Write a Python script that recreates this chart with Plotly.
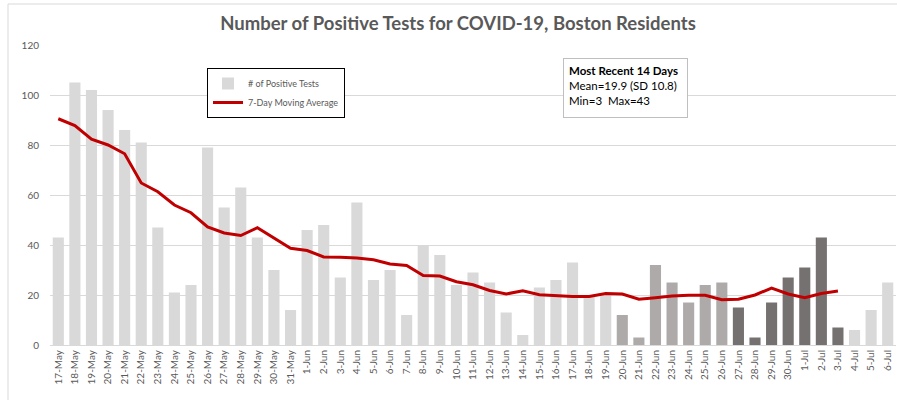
import plotly.graph_objects as go

dates = ["17-May","18-May","19-May","20-May","21-May","22-May","23-May","24-May","25-May","26-May",
         "27-May","28-May","29-May","30-May","31-May",
         "1-Jun","2-Jun","3-Jun","4-Jun","5-Jun","6-Jun","7-Jun","8-Jun","9-Jun","10-Jun",
         "11-Jun","12-Jun","13-Jun","14-Jun","15-Jun","16-Jun","17-Jun","18-Jun","19-Jun","20-Jun",
         "21-Jun","22-Jun","23-Jun","24-Jun","25-Jun","26-Jun","27-Jun","28-Jun","29-Jun","30-Jun",
         "1-Jul","2-Jul","3-Jul","4-Jul","5-Jul","6-Jul"]

positive_tests = [43,105,102,94,86,81,47,21,24,79,
                  55,63,43,30,14,
                  46,48,27,57,26,30,12,40,36,24,
                  29,25,13,4,23,26,33,20,20,12,
                  3,32,25,17,24,25,15,3,17,27,
                  31,43,7,6,14,25]

moving_avg = [90.5,87.8,82.3,80.0,76.5,64.8,61.3,56.0,52.9,47.2,
              44.8,43.8,46.9,42.7,38.7,
              37.8,35.2,35.1,34.8,34.1,32.4,31.8,27.8,27.6,25.3,
              24.1,21.8,20.4,21.7,20.1,19.6,19.4,19.4,20.6,20.4,
              18.3,18.9,19.6,19.9,19.9,18.1,18.3,20.0,22.8,20.4,
              18.9,20.6,21.6,None,None,None]

# period group per bar: 0 = earlier/later days, 1 = previous 7-day window, 2 = most recent 7 days
period = [0]*34 + [1]*7 + [2]*7 + [0]*3
period_colors = {0: "#d9d9d9", 1: "#aeaaaa", 2: "#767171"}
bar_colors = [period_colors[p] for p in period]

FONT = "Lato, 'Open Sans', sans-serif"

fig = go.Figure()
fig.add_trace(go.Bar(
    x=dates, y=positive_tests, name="# of Positive Tests",
    marker=dict(color=bar_colors, line=dict(width=0)),
))
fig.add_trace(go.Scatter(
    x=dates, y=moving_avg, name="7-Day Moving Average", mode="lines",
    line=dict(color="#c00000", width=3), connectgaps=False,
))

fig.update_layout(
    width=897, height=400,
    margin=dict(l=50, r=1, t=45, b=55, autoexpand=False),
    paper_bgcolor="white", plot_bgcolor="white",
    bargap=0.33,
    font=dict(family=FONT, color="#595959", size=10),
    title=dict(text="<b>Number of Positive Tests for COVID-19, Boston Residents</b>",
               x=(458-50)/846, xref="paper", xanchor="center", y=(400-24)/400, yanchor="middle",
               font=dict(family=FONT, size=18.5, color="#595959")),
    showlegend=True,
    legend=dict(x=(207-50)/846, y=(345-68)/300, xanchor="left", yanchor="top",
                bordercolor="#000000", borderwidth=1, bgcolor="white",
                font=dict(family=FONT, size=9, color="#595959"),
                tracegroupgap=0, itemwidth=30),
    xaxis=dict(type="category", tickangle=-90, showgrid=False, showline=True,
               linecolor="#d9d9d9", linewidth=1, ticks="", automargin=False,
               tickfont=dict(family=FONT, size=10, color="#595959")),
    yaxis=dict(range=[0, 120], tickvals=[0, 20, 40, 60, 80, 100, 120],
               showgrid=True, gridcolor="#d9d9d9", gridwidth=1, zeroline=False,
               showline=False, ticks="", ticklabelstandoff=10, automargin=False,
               tickfont=dict(family=FONT, size=10, color="#595959")),
    annotations=[dict(
        xref="paper", yref="paper", x=(563-50)/846, y=(345-58)/300,
        xanchor="left", yanchor="top", align="left", valign="top",
        showarrow=False, width=113, height=48,
        bordercolor="#bfbfbf", borderwidth=1, borderpad=5, bgcolor="white",
        text="<b>Most Recent 14 Days</b><br>Mean=19.9 (SD 10.8)<br>Min=3  Max=43",
        font=dict(family=FONT, size=11.5, color="#000000"),
    )],
    shapes=[dict(type="rect", xref="paper", yref="paper",
                 x0=(8-50)/846, x1=(905-50)/846, y0=(345-410)/300, y1=(345-4)/300,
                 line=dict(color="#d9d9d9", width=1), fillcolor="rgba(0,0,0,0)",
                 layer="below")],
)

fig.write_html("out.html", config={"displayModeBar": False},
               post_script="document.body.style.margin='0';document.body.style.overflow='hidden';")
